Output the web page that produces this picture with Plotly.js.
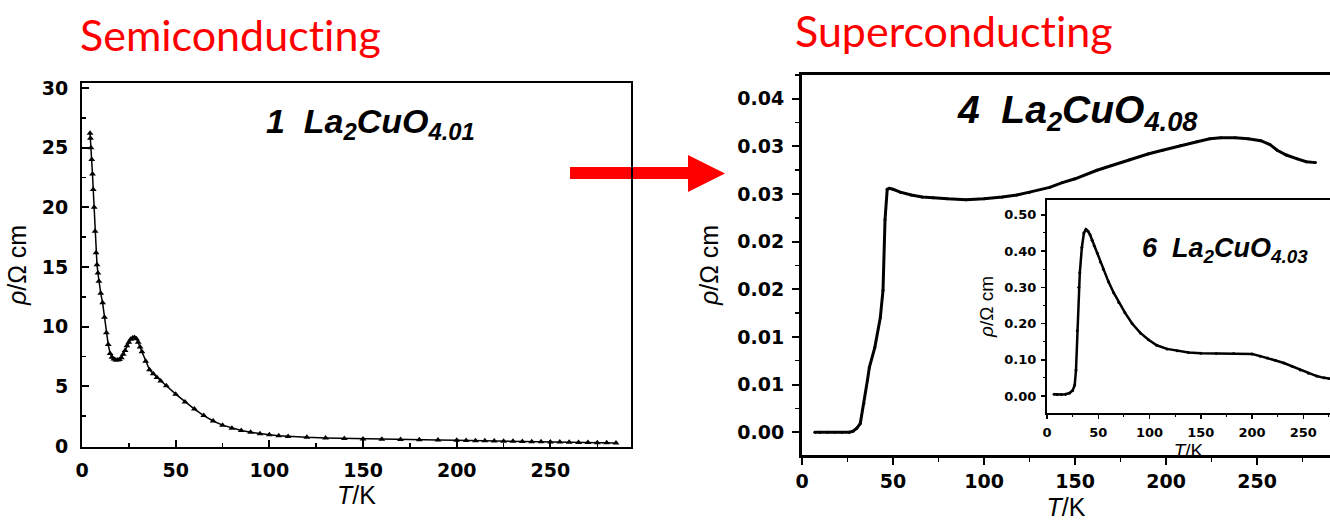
<!DOCTYPE html>
<html><head><meta charset="utf-8">
<script src="https://cdn.plot.ly/plotly-3.0.1.min.js"></script>
<style>html,body{margin:0;padding:0;background:#fff;}#chart{width:1330px;height:522px;}
svg text{font-variant-ligatures:none;font-feature-settings:"liga" 0,"clig" 0,"dlig" 0;}</style>
</head><body><div id="chart"></div>
<script>
// Panel 1: La2CuO4.01 (semiconducting)
const T1 = [4.3,4.5,4.8,5.2,5.6,6.0,6.5,7.0,7.5,8.0,8.5,9.0,10,11,12,13,14,15,16,17,18,19,20,21,22,23,24,25,26,27,28,29,30,31,32,34,36,38,40,42,45,50,55,60,65,70,75,80,85,90,95,100,105,110,120,130,140,150,160,170,180,190,200,205,210,215,220,225,230,235,240,245,250,255,260,265,270,275,280,285];
const rho1 = [26.2,25.8,25.0,24.0,22.8,21.5,20.0,18.0,16.2,15.2,14.5,13.8,12.8,12.0,10.8,9.5,8.5,7.75,7.45,7.3,7.2,7.2,7.25,7.4,7.7,8.0,8.4,8.7,8.95,9.05,9.1,9.0,8.7,8.3,7.9,7.1,6.4,6.05,5.75,5.45,5.05,4.35,3.7,3.1,2.55,2.1,1.75,1.5,1.3,1.15,1.03,0.94,0.87,0.81,0.73,0.68,0.64,0.6,0.57,0.55,0.52,0.5,0.48,0.47,0.45,0.44,0.42,0.41,0.4,0.38,0.37,0.35,0.34,0.33,0.32,0.3,0.29,0.28,0.27,0.26];

// Panel 4: La2CuO4.08 (superconducting)
const T4 = [7,10,14,18,22,26,28,30,32,34,36,37,40,43,44.5,45.6,46.8,48,50,54,60,66,72,80,90,100,110,118,125,136,143,150,162,170,180,190,198,208,217,224,230,238,245,252,257,261,266,272,277,282];
const rho4 = [0,0,0,0,0,0,0.0001,0.0004,0.0009,0.003,0.0055,0.0068,0.0089,0.012,0.0149,0.0223,0.0255,0.0256,0.0255,0.0252,0.0249,0.0247,0.0246,0.0245,0.0244,0.0245,0.0247,0.0249,0.0252,0.0257,0.0262,0.0266,0.0275,0.028,0.0286,0.0292,0.0296,0.0301,0.0305,0.0308,0.0309,0.0309,0.0308,0.0306,0.0302,0.0296,0.0291,0.0287,0.0284,0.0283];
const yTickVals4 = [0,0.005,0.01,0.015,0.02,0.025,0.03,0.035];
const yTickText4 = ["0.00","0.01","0.01","0.02","0.02","0.03","0.03","0.04"];

// Inset 6: La2CuO4.03
const T6 = [7,10,14,18,22,25,27,28.3,29.5,31,32,34,36,38,40,42,44,46,49,52,55,60,65,70,76,83,91,99,107,117,127,138,150,165,182,200,208,215,223,231,239,247,255,263,270,275];
const rho6 = [0.005,0.004,0.004,0.005,0.008,0.015,0.03,0.072,0.18,0.3,0.34,0.41,0.45,0.46,0.455,0.445,0.43,0.415,0.395,0.37,0.35,0.315,0.285,0.258,0.23,0.2,0.174,0.155,0.14,0.13,0.125,0.12,0.118,0.117,0.117,0.116,0.11,0.105,0.098,0.091,0.082,0.072,0.063,0.055,0.05,0.048];
const yTickText6 = ["0.00","0.10","0.20","0.30","0.40","0.50"];
const xTickText = ["0","50","100","150","200","250"];

const W = 1330, H = 522;
const fx = p => p / W;
const fy = p => 1 - p / H;

const tickFontBig = {family:'DejaVu Sans', size:19, color:'#000', weight:700};
const tickFontSmall = {family:'DejaVu Sans', size:13, color:'#000', weight:700};
const titleFont = {family:'Liberation Sans, Arial', size:25, color:'#000'};
const titleFontSmall = {family:'Liberation Sans, Arial', size:19, color:'#000'};

const traces = [
  {x:T1, y:rho1, xaxis:'x', yaxis:'y', mode:'lines+markers', line:{color:'#000', width:1.5},
   marker:{symbol:'triangle-up', size:6, color:'#000'}, showlegend:false},
  {x:T4, y:rho4, xaxis:'x2', yaxis:'y2', mode:'lines+markers', line:{color:'#000', width:3},
   marker:{symbol:'circle', size:3, color:'#000'}, showlegend:false},
  {x:T6, y:rho6, xaxis:'x3', yaxis:'y3', mode:'lines+markers', line:{color:'#000', width:2.5},
   marker:{symbol:'circle', size:3, color:'#000'}, showlegend:false}
];

const axBase = {showgrid:false, zeroline:false, showline:true, linecolor:'#000', color:'#000'};

const layout = {
  width:W, height:H, margin:{l:0,r:0,t:0,b:0}, paper_bgcolor:'#fff', plot_bgcolor:'rgba(0,0,0,0)',
  showlegend:false,
  xaxis: Object.assign({}, axBase, {domain:[fx(82), fx(631)], range:[0,293], anchor:'y',
    tickvals:[0,50,100,150,200,250], ticktext:xTickText, ticks:'inside', ticklen:7, tickwidth:2, linewidth:2, mirror:true,
    minor:{dtick:25, tick0:0, ticks:'inside', ticklen:4, tickwidth:1.5, tickcolor:'#000'},
    tickfont:tickFontBig, ticklabelstandoff:5,
    title:{text:'<i>T</i>/K', font:titleFont, standoff:6}}),
  yaxis: Object.assign({}, axBase, {domain:[fy(447), fy(83)], range:[-0.08,30.42], anchor:'x',
    tickvals:[0,5,10,15,20,25,30], ticks:'inside', ticklen:7, tickwidth:2, linewidth:2, mirror:true,
    minor:{dtick:2.5, tick0:0, ticks:'inside', ticklen:4, tickwidth:1.5, tickcolor:'#000'},
    tickfont:tickFontBig, ticklabelstandoff:8,
    title:{text:'<i>ρ</i>/Ω cm', font:titleFont, standoff:8}}),
  xaxis2: Object.assign({}, axBase, {domain:[fx(802), 1], range:[0,290], anchor:'y2',
    tickvals:[0,50,100,150,200,250], ticktext:xTickText, ticks:'outside', ticklen:7, tickwidth:2, linewidth:3, mirror:true,
    minor:{dtick:25, tick0:0, ticks:'outside', ticklen:4, tickwidth:1.5, tickcolor:'#000'},
    tickfont:tickFontBig, ticklabelstandoff:0,
    title:{text:'<i>T</i>/K', font:titleFont, standoff:8}}),
  yaxis2: Object.assign({}, axBase, {domain:[fy(455), fy(75)], range:[-0.0024,0.0375], anchor:'x2',
    tickvals:yTickVals4, ticktext:yTickText4, ticks:'outside', ticklen:7, tickwidth:2, linewidth:3, mirror:false,
    minor:{dtick:0.0025, tick0:0, ticks:'outside', ticklen:4, tickwidth:1.5, tickcolor:'#000'},
    tickfont:tickFontBig, ticklabelstandoff:4,
    title:{text:'<i>ρ</i>/Ω cm', font:titleFont, standoff:12}}),
  xaxis3: Object.assign({}, axBase, {domain:[fx(1047), 1], range:[0,276], anchor:'y3',
    tickvals:[0,50,100,150,200,250], ticktext:xTickText, ticks:'outside', ticklen:4, tickwidth:1.5, linewidth:2, mirror:true,
    minor:{dtick:25, tick0:0, ticks:'outside', ticklen:2, tickwidth:1, tickcolor:'#000'},
    tickfont:tickFontSmall, ticklabelstandoff:2,
    title:{text:'<i>T</i>/K', font:titleFontSmall, standoff:0}}),
  yaxis3: Object.assign({}, axBase, {domain:[fy(413), fy(200)], range:[-0.047,0.541], anchor:'x3',
    tickvals:[0,0.1,0.2,0.3,0.4,0.5], ticktext:yTickText6, ticks:'outside', ticklen:4, tickwidth:1.5, linewidth:2, mirror:false,
    minor:{dtick:0.05, tick0:0, ticks:'outside', ticklen:2, tickwidth:1, tickcolor:'#000'},
    tickfont:tickFontSmall, ticklabelstandoff:2,
    title:{text:'<i>ρ</i>/Ω cm', font:titleFontSmall, standoff:6}}),
  annotations: [
    {xref:'paper', yref:'paper', x:fx(78), y:fy(34), xanchor:'left', yanchor:'middle', showarrow:false,
     text:'Semiconducting', font:{family:'Lato', size:43, color:'#ff0000'}},
    {xref:'paper', yref:'paper', x:fx(793), y:fy(30), xanchor:'left', yanchor:'middle', showarrow:false,
     text:'Superconducting', font:{family:'Lato', size:43, color:'#ff0000'}},
    {xref:'paper', yref:'paper', x:fx(264), y:fy(123), xanchor:'left', yanchor:'middle', showarrow:false,
     text:'<b><i>1&nbsp;&nbsp;La<sub>2</sub>CuO<sub>4.01</sub></i></b>', font:{family:'Liberation Sans, Arial', size:34, color:'#000'}},
    {xref:'paper', yref:'paper', x:fx(955), y:fy(112), xanchor:'left', yanchor:'middle', showarrow:false,
     text:'<b><i>4&nbsp;&nbsp;La<sub>2</sub>CuO<sub>4.08</sub></i></b>', font:{family:'Liberation Sans, Arial', size:39, color:'#000'}},
    {xref:'paper', yref:'paper', x:fx(1140), y:fy(250), xanchor:'left', yanchor:'middle', showarrow:false,
     text:'<b><i>6&nbsp;&nbsp;La<sub>2</sub>CuO<sub>4.03</sub></i></b>', font:{family:'Liberation Sans, Arial', size:27, color:'#000'}}
  ],
  shapes: [
    {type:'rect', xref:'paper', yref:'paper', x0:fx(570), x1:fx(690), y0:fy(179), y1:fy(167), fillcolor:'#ff0000', line:{width:0}, layer:'below'},
    {type:'path', xref:'paper', yref:'paper', path:'M '+fx(688)+','+fy(155)+' L '+fx(725)+','+fy(173.5)+' L '+fx(688)+','+fy(192)+' Z',
     fillcolor:'#ff0000', line:{width:0}, layer:'below'}
  ]
};

Plotly.newPlot('chart', traces, layout, {staticPlot:true, displayModeBar:false});
</script>
</body></html>
